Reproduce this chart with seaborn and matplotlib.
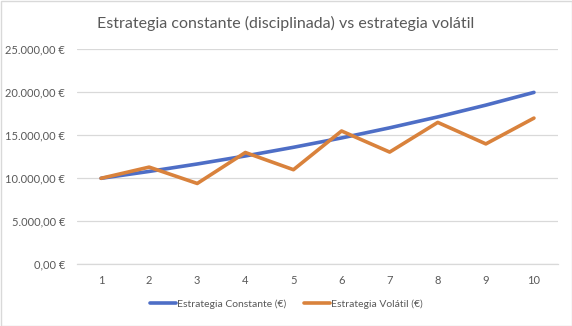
import matplotlib
matplotlib.use("Agg")
import matplotlib.pyplot as plt
import seaborn as sns
import pandas as pd
from matplotlib.ticker import FuncFormatter, FixedLocator
from matplotlib.patches import Rectangle

years = [1, 2, 3, 4, 5, 6, 7, 8, 9, 10]
constante = [10000, 10800, 11664, 12597, 13605, 14693, 15869, 17138, 18509, 19990]
volatil = [10000, 11300, 9400, 13000, 11000, 15500, 13050, 16500, 14000, 17000]
series_names = ["Estrategia Constante (€)", "Estrategia Volátil (€)"]
title = "Estrategia constante (disciplinada) vs estrategia volátil"
y_ticks = [0, 5000, 10000, 15000, 20000, 25000]

df = pd.DataFrame({
    "x": years * 2,
    "valor": constante + volatil,
    "serie": [series_names[0]] * len(years) + [series_names[1]] * len(years),
})

sns.set_theme(style="white")
plt.rcParams["font.family"] = ["Lato", "DejaVu Sans"]

fig = plt.figure(figsize=(5.72, 3.26), dpi=100)
W, H = 572, 326
ax = fig.add_axes([77 / W, 1 - 264.3 / H, (558 - 77) / W, (264.3 - 49.3) / H])

palette = {series_names[0]: "#4E6EC6", series_names[1]: "#D9823C"}
sns.lineplot(data=df, x="x", y="valor", hue="serie", palette=palette,
             linewidth=2.6, ax=ax, legend=True)

ax.set_xlim(0.5, 10.5)
ax.set_ylim(0, 25000)
ax.yaxis.set_major_locator(FixedLocator(y_ticks))
ax.xaxis.set_major_locator(FixedLocator(years))

def eur(v, pos):
    s = f"{v:,.2f}".replace(",", "X").replace(".", ",").replace("X", ".")
    return s + " €"

ax.yaxis.set_major_formatter(FuncFormatter(eur))
ax.grid(axis="y", color="#D9D9D9", linewidth=0.9)
ax.set_axisbelow(True)
for s in ["top", "right", "left"]:
    ax.spines[s].set_visible(False)
ax.spines["bottom"].set_color("#D9D9D9")
ax.spines["bottom"].set_linewidth(0.9)
ax.tick_params(axis="both", length=0, labelsize=8, colors="#595959")
ax.tick_params(axis="y", pad=8.5)
ax.tick_params(axis="x", pad=8)
ax.set_xlabel("")
ax.set_ylabel("")

fig.suptitle(title, x=0.5, y=1 - 23 / H, va="center", fontsize=11.5, color="#595959")

handles, labels = ax.get_legend_handles_labels()
ax.legend(handles, labels, loc="center", bbox_to_anchor=(0.5, 1 - 304 / H),
          bbox_transform=fig.transFigure, ncol=2, frameon=False, fontsize=7.5,
          handlelength=2.5, handletextpad=0.1, columnspacing=1.7,
          labelcolor="#595959")

fig.patches.append(Rectangle((0.5 / W, 0.5 / H), 1 - 1 / W, 1 - 1 / H,
                             transform=fig.transFigure, fill=False,
                             edgecolor="#D9D9D9", linewidth=1.0))

fig.savefig("out.png", dpi=100)
